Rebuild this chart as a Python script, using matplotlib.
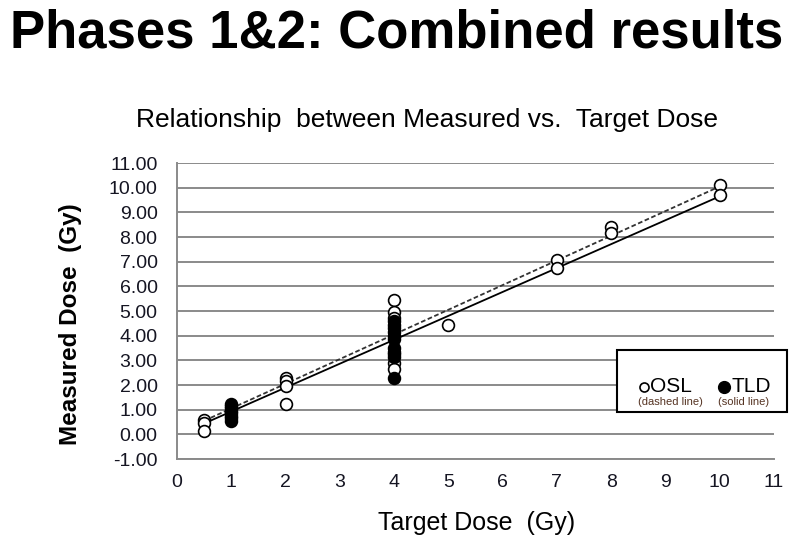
import matplotlib
matplotlib.use("Agg")
import matplotlib.pyplot as plt
from matplotlib.lines import Line2D
from matplotlib.patches import Rectangle
import numpy as np

# ---- data ----
osl_x = [0.5, 0.5, 0.5, 2, 2, 2, 2, 4, 4, 4, 4, 4, 5, 7, 7, 8, 8, 10, 10]
osl_y = [0.6, 0.45, 0.15, 2.3, 2.15, 1.95, 1.25, 5.45, 4.95, 4.7, 2.9, 2.65, 4.45, 7.05, 6.75, 8.4, 8.15, 10.1, 9.7]
tld_x = [1, 1, 1, 1, 1, 1, 1, 1, 4, 4, 4, 4, 4, 4, 4, 4, 4, 4, 4]
tld_y = [0.55, 0.65, 0.75, 0.85, 0.95, 1.05, 1.15, 1.25,
         4.6, 4.45, 4.3, 4.15, 4.0, 3.85, 3.5, 3.35, 3.25, 3.15, 2.3]
osl_fit_x = [0.5, 10]
osl_fit_y = [0.55, 10.05]
tld_fit_x = [0.5, 10]
tld_fit_y = [0.44, 9.65]
x_ticks = list(range(0, 12))
y_ticks = list(range(-1, 12))

main_title = "Phases 1&2: Combined results"
chart_title = "Relationship  between Measured vs.  Target Dose"
x_label = "Target Dose  (Gy)"
y_label = "Measured Dose  (Gy)"

narrow = ["Liberation Sans Narrow", "Liberation Sans", "DejaVu Sans"]
sans = ["Liberation Sans", "DejaVu Sans"]

fig = plt.figure(figsize=(8.0, 5.51), dpi=100)
W, H = 800, 551

def fx(px):
    return px / W

def fy(py):
    return 1 - py / H

ax = fig.add_axes([fx(177), fy(459), (774 - 177) / W, (459 - 163) / H])
ax.set_xlim(0, 11)
ax.set_ylim(-1, 11)

for v in y_ticks:
    ax.axhline(v, color="#8a8a8a", lw=1.4, zorder=0)

ax.plot(osl_fit_x, osl_fit_y, color="#333333", lw=1.3, ls=(0, (2.6, 1.4)), zorder=2)
ax.plot(tld_fit_x, tld_fit_y, color="black", lw=1.3, ls="-", zorder=2)

ax.plot(osl_x, osl_y, ls="none", marker="o", ms=8.5, mfc="white", mec="black", mew=1.2, zorder=3)
ax.plot(tld_x, tld_y, ls="none", marker="o", ms=8.5, mfc="black", mec="black", mew=1.2, zorder=4)

for s in ["top", "right"]:
    ax.spines[s].set_visible(False)
for s in ["left", "bottom"]:
    ax.spines[s].set_color("#8a8a8a")
    ax.spines[s].set_linewidth(1.4)

ax.set_xticks(x_ticks)
ax.set_xticklabels([str(v) for v in x_ticks], family=sans, fontsize=14, color="#151522")
ax.set_yticks(y_ticks)
ax.set_yticklabels([f"{v:.2f}" for v in y_ticks], family=sans, fontsize=14, color="#151522")
ax.tick_params(length=0)
ax.tick_params(axis="y", pad=14)
ax.tick_params(axis="x", pad=11)

fig.text(fx(397), fy(34), main_title, ha="center", va="center",
         family=sans, fontweight="heavy", fontsize=38)
fig.text(fx(427), fy(120), chart_title, ha="center", va="center",
         family=narrow, fontsize=19)
fig.text(fx(477), fy(523), x_label, ha="center", va="center",
         family=narrow, fontsize=18)
fig.text(fx(71), fy(324), y_label, ha="center", va="center", rotation=90,
         family=sans, fontweight="bold", fontsize=17.5)

# legend box
fig.patches.append(Rectangle((fx(617), fy(412)), (787 - 617) / W, (412 - 350) / H,
                             transform=fig.transFigure, fill=True, facecolor="white",
                             edgecolor="black", lw=1.5, zorder=5))
fig.lines.append(Line2D([fx(644)], [fy(387)], transform=fig.transFigure, marker="o", ms=6.5,
                        mfc="white", mec="black", mew=1.2, ls="none", zorder=6))
fig.lines.append(Line2D([fx(724)], [fy(387)], transform=fig.transFigure, marker="o", ms=8.5,
                        mfc="black", mec="black", ls="none", zorder=6))
fig.text(fx(650), fy(387), "OSL", ha="left", va="center", family=narrow, fontsize=15, zorder=6)
fig.text(fx(731), fy(387), "TLD", ha="left", va="center", family=narrow, fontsize=15, zorder=6)
fig.text(fx(670), fy(402), "(dashed line)", ha="center", va="center", family=narrow,
         fontsize=8, color="#553322", zorder=6)
fig.text(fx(744), fy(402), "(solid line)", ha="center", va="center", family=narrow,
         fontsize=8, color="#553322", zorder=6)

fig.savefig("out.png", dpi=100)
